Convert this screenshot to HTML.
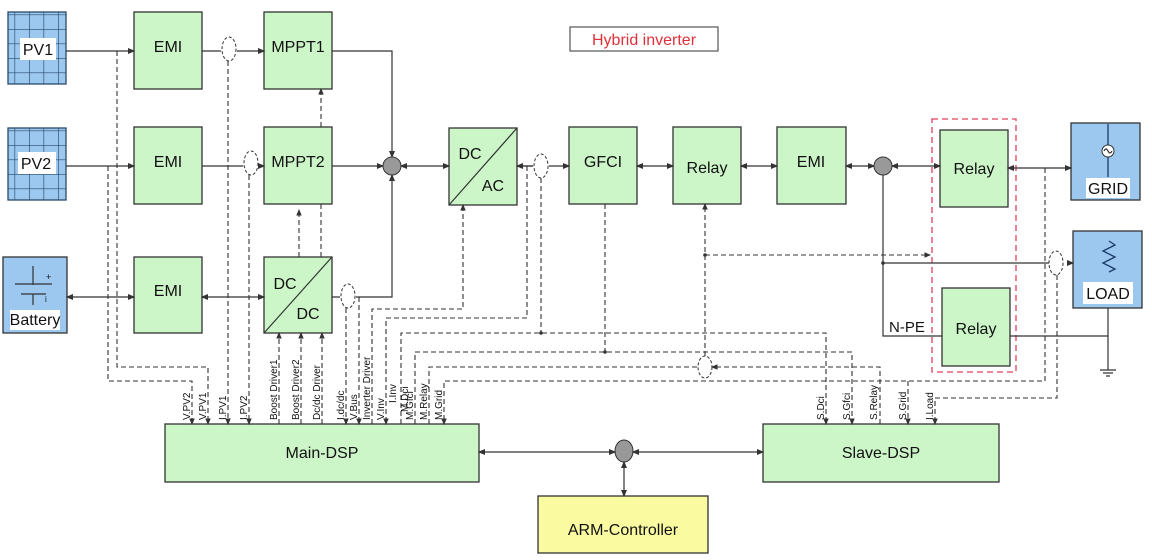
<!DOCTYPE html>
<html><head><meta charset="utf-8"><style>
body{margin:0;background:#fff}
svg{display:block}
text{font-family:"Liberation Sans",sans-serif;fill:#111}
.b{fill:#ccf5c8;stroke:#333;stroke-width:1.3}
.s{fill:#9cc8f0;stroke:#333;stroke-width:1.3}
.l{stroke:#333;stroke-width:1.2;fill:none}
.d{stroke:#333;stroke-width:1.1;fill:none;stroke-dasharray:5,3}
.t{font-size:16px;text-anchor:middle}
.v{font-size:10px}
</style></head><body>
<svg width="1152" height="560" viewBox="0 0 1152 560" xmlns="http://www.w3.org/2000/svg">
<defs>
<marker id="a" markerWidth="6" markerHeight="6" refX="5" refY="3" orient="auto"><path d="M0,0.5 L6,3 L0,5.5z" fill="#333"/></marker>
<marker id="as" markerWidth="6" markerHeight="6" refX="1" refY="3" orient="auto"><path d="M6,0.5 L0,3 L6,5.5z" fill="#333"/></marker>
<pattern id="g" width="14.5" height="14.5" patternUnits="userSpaceOnUse"><rect width="14.5" height="14.5" fill="#9cc8f0"/><path d="M0,0H14.5M0,0V14.5" stroke="#2a4a6a" stroke-width="1.3"/></pattern>
</defs>

<rect x="8" y="12" width="58" height="72" fill="url(#g)" stroke="#2a4a6a" stroke-width="1.3"/>
<rect x="20" y="38" width="36" height="22" fill="#fff"/><text x="38" y="55" class="t">PV1</text>
<rect x="8" y="128" width="58" height="72" fill="url(#g)" stroke="#2a4a6a" stroke-width="1.3"/>
<rect x="18" y="152" width="38" height="22" fill="#fff"/><text x="36" y="169" class="t">PV2</text>
<rect x="3" y="257" width="64" height="76" class="s"/>
<path d="M33,266V285M15,284H52M21,294H46M33,294V305" stroke="#333" stroke-width="1.2"/>
<text x="46" y="280" font-size="9">+</text><text x="45" y="302" font-size="8">i</text>
<rect x="10" y="310" width="50" height="20" fill="#fff"/><text x="35" y="325" class="t" font-size="14">Battery</text>

<rect x="134" y="12" width="68" height="77" class="b"/><text x="168" y="52" class="t">EMI</text>
<rect x="134" y="127" width="68" height="77" class="b"/><text x="168" y="167" class="t">EMI</text>
<rect x="134" y="257" width="68" height="76" class="b"/><text x="168" y="296" class="t">EMI</text>
<rect x="264" y="12" width="68" height="77" class="b"/><text x="298" y="52" class="t">MPPT1</text>
<rect x="264" y="127" width="68" height="77" class="b"/><text x="298" y="167" class="t">MPPT2</text>
<rect x="264" y="257" width="68" height="76" class="b"/><path d="M264,333L332,257" class="l"/>
<text x="285" y="289" class="t">DC</text><text x="308" y="319" class="t">DC</text>
<rect x="449" y="128" width="68" height="77" class="b"/><path d="M449,205L517,128" class="l"/>
<text x="470" y="159" class="t">DC</text><text x="493" y="191" class="t">AC</text>
<rect x="569" y="127" width="68" height="77" class="b"/><text x="603" y="167" class="t">GFCI</text>
<rect x="673" y="127" width="68" height="77" class="b"/><text x="707" y="173" class="t">Relay</text>
<rect x="777" y="127" width="69" height="77" class="b"/><text x="811" y="167" class="t">EMI</text>
<rect x="932" y="119" width="84" height="253" fill="none" stroke="#e0405a" stroke-width="1.3" stroke-dasharray="6,4"/>
<rect x="940" y="130" width="68" height="77" class="b"/><text x="974" y="174" class="t">Relay</text>
<rect x="942" y="288" width="68" height="78" class="b"/><text x="976" y="334" class="t">Relay</text>
<rect x="1071" y="123" width="69" height="77" class="s"/>
<path d="M1108,124V177" stroke="#1a3a6a" stroke-width="1.3"/>
<circle cx="1108" cy="151" r="6" fill="#fff" stroke="#333"/><path d="M1104,151q2,-4 4,0t4,0" class="l" stroke-width="0.8"/>
<rect x="1086" y="178" width="44" height="20" fill="#fff"/><text x="1108" y="194" class="t">GRID</text>
<rect x="1073" y="231" width="69" height="77" class="s"/>
<path d="M1109,241l6,4l-12,6l12,6l-12,6l12,6l-6,3" stroke="#1a3a6a" stroke-width="1.3" fill="none"/>
<rect x="1083" y="282" width="50" height="22" fill="#fff"/><text x="1108" y="299" class="t">LOAD</text>

<rect x="165" y="424" width="314" height="58" class="b"/><text x="322" y="458" class="t" font-size="15">Main-DSP</text>
<rect x="763" y="424" width="236" height="58" class="b"/><text x="881" y="458" class="t" font-size="15">Slave-DSP</text>
<rect x="538" y="496" width="170" height="57" fill="#fafaa0" stroke="#333" stroke-width="1.3"/><text x="623" y="535" class="t" font-size="15">ARM-Controller</text>
<rect x="570" y="27" width="148" height="24" fill="#fff" stroke="#555" stroke-width="1.2"/>
<text x="644" y="45" class="t" style="fill:#e0303a" font-size="15">Hybrid inverter</text>

<path d="M66,51H134" class="l" marker-end="url(#a)"/>
<path d="M202,51H221M237,51H264" class="l" marker-end="url(#a)"/>
<path d="M332,51H392V157" class="l" marker-end="url(#a)"/>
<path d="M66,166H134" class="l" marker-end="url(#a)"/>
<path d="M202,166H243M259,166H264" class="l" marker-end="url(#a)"/>
<path d="M332,166H383" class="l" marker-end="url(#a)"/>
<path d="M67,297H134" class="l" marker-start="url(#as)" marker-end="url(#a)"/>
<path d="M202,297H264" class="l" marker-start="url(#as)" marker-end="url(#a)"/>
<path d="M332,297H340M356,297H392V175" class="l" marker-end="url(#a)"/>
<path d="M401,166H449" class="l" marker-start="url(#as)" marker-end="url(#a)"/>
<path d="M517,166H533M549,166H569" class="l" marker-end="url(#a)"/>
<path d="M517,166H533" class="l" marker-start="url(#as)"/>
<path d="M637,166H673" class="l" marker-start="url(#as)" marker-end="url(#a)"/>
<path d="M741,166H777" class="l" marker-start="url(#as)" marker-end="url(#a)"/>
<path d="M846,166H874" class="l" marker-start="url(#as)" marker-end="url(#a)"/>
<path d="M892,166H940" class="l" marker-start="url(#as)" marker-end="url(#a)"/>
<path d="M1008,168H1071" class="l" marker-start="url(#as)" marker-end="url(#a)"/>
<path d="M883,175V336H942" class="l"/>
<path d="M883,263H1051M1067,263H1073" class="l" marker-end="url(#a)"/>
<circle cx="883" cy="263" r="1.8" fill="#333"/>
<path d="M1010,336H1108M1108,308V370" class="l"/>
<path d="M1100,370H1116M1103,373H1113M1106,376H1110" class="l"/>
<text x="889" y="332" font-size="15">N-PE</text>

<circle cx="392" cy="166" r="9" fill="#999" stroke="#333"/>
<circle cx="883" cy="166" r="9" fill="#999" stroke="#333"/>
<ellipse cx="624" cy="451" rx="9" ry="11" fill="#999" stroke="#333"/>
<path d="M479,452H615" class="l" marker-start="url(#as)" marker-end="url(#a)"/>
<path d="M633,452H763" class="l" marker-start="url(#as)" marker-end="url(#a)"/>
<path d="M624,462V496" class="l" marker-start="url(#as)" marker-end="url(#a)"/>

<g fill="#fff" stroke="#333" stroke-width="1" stroke-dasharray="3,2">
<ellipse cx="229" cy="49" rx="7" ry="12"/>
<ellipse cx="251" cy="163" rx="7" ry="12"/>
<ellipse cx="348" cy="296" rx="7" ry="12"/>
<ellipse cx="541" cy="166" rx="7" ry="12"/>
<ellipse cx="705" cy="367" rx="7" ry="11"/>
<ellipse cx="1056" cy="263" rx="7" ry="12"/>
</g>

<path d="M117,51V367H208V424" class="d" marker-end="url(#a)"/>
<path d="M108,166V381H192V424" class="d" marker-end="url(#a)"/>
<path d="M228,61V424" class="d" marker-end="url(#a)"/>
<path d="M249,175V424" class="d" marker-end="url(#a)"/>
<path d="M279,424V333" class="d" marker-end="url(#a)"/>
<path d="M301,424V333" class="d" marker-end="url(#a)"/>
<path d="M322,424V333" class="d" marker-end="url(#a)"/>
<path d="M299,257V210" class="d" marker-end="url(#a)"/>
<path d="M321,257V204M321,127V89" class="d" marker-end="url(#a)"/>
<path d="M346,308V424" class="d" marker-end="url(#a)"/>
<path d="M359,297V424" class="d" marker-end="url(#a)"/>
<path d="M372,424V309H463V205" class="d" marker-end="url(#a)"/>
<path d="M527,166V318H386V424" class="d" marker-end="url(#a)"/>
<path d="M541,178V333M401,424V333H826V424" class="d" marker-end="url(#a)"/>
<circle cx="541" cy="333" r="1.8" fill="#333"/>
<path d="M605,204V352M415,424V352H852V424" class="d" marker-end="url(#a)"/>
<circle cx="605" cy="352" r="1.8" fill="#333"/>
<path d="M429,424V367H698" class="d"/>
<path d="M880,424V367H712" class="d" marker-end="url(#a)"/>
<path d="M705,356V204" class="d" marker-end="url(#a)"/>
<path d="M705,255H930" class="d" marker-end="url(#a)"/>
<circle cx="705" cy="255" r="1.8" fill="#333"/>
<path d="M1045,168V381H444V424" class="d" marker-end="url(#a)"/>
<path d="M908,381V424" class="d" marker-end="url(#a)"/>
<path d="M1057,275V398H935V424" class="d" marker-end="url(#a)"/>

<g class="v">
<text transform="translate(190,420) rotate(-90)">V.PV2</text>
<text transform="translate(206,420) rotate(-90)">V.PV1</text>
<text transform="translate(226,420) rotate(-90)">I.PV1</text>
<text transform="translate(247,420) rotate(-90)">I.PV2</text>
<text transform="translate(277,420) rotate(-90)">Boost Driver1</text>
<text transform="translate(299,420) rotate(-90)">Boost Driver2</text>
<text transform="translate(320,420) rotate(-90)">Dc/dc Driver</text>
<text transform="translate(344,420) rotate(-90)">I.dc/dc</text>
<text transform="translate(357,420) rotate(-90)">V.Bus</text>
<text transform="translate(370,420) rotate(-90)">Inverter Driver</text>
<text transform="translate(384,420) rotate(-90)">V.Inv</text>
<text transform="translate(396,403) rotate(-90)">I.Inv</text>
<text transform="translate(408,412) rotate(-90)">M.Dci</text>
<text transform="translate(413,420) rotate(-90)">M.Gfci</text>
<text transform="translate(427,420) rotate(-90)">M.Relay</text>
<text transform="translate(442,420) rotate(-90)">M.Grid</text>
<text transform="translate(824,420) rotate(-90)">S.Dci</text>
<text transform="translate(850,420) rotate(-90)">S.Gfci</text>
<text transform="translate(877,420) rotate(-90)">S.Relay</text>
<text transform="translate(906,420) rotate(-90)">S.Grid</text>
<text transform="translate(933,420) rotate(-90)">I.Load</text>
</g>
</svg>
</body></html>
